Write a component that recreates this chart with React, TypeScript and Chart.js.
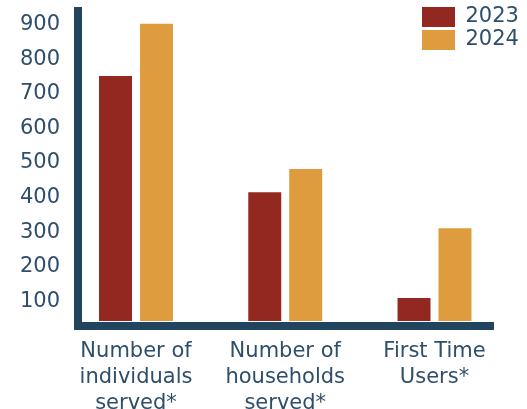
import { useEffect, useRef } from 'react';
import { Chart, registerables } from 'chart.js';

Chart.register(...registerables);

const categories: string[][] = [
  ['Number of', 'individuals', 'served*'],
  ['Number of', 'households', 'served*'],
  ['First Time', 'Users*'],
];
const categoryPositions = [0, 1, 2];
const seriesLabels = ['2023', '2024'];
const values2023 = [745, 410, 104];
const values2024 = [896, 477, 306];
const yTicks = [100, 200, 300, 400, 500, 600, 700, 800, 900];

const RED = '#932821';
const ORANGE = '#DE9C3E';
const AXIS = '#22455F';
const TEXT = '#2E4E6B';
const FAMILY = "'DejaVu Sans', sans-serif";

const legendPlacer = {
  id: 'legendPlacer',
  afterLayout(chart: any) {
    const lg = chart.legend;
    if (lg) {
      lg.left = 420;
      lg.top = 4.5;
      lg.right = 527;
      lg.bottom = 120;
    }
  },
};

export default function App() {
  const ref = useRef<HTMLCanvasElement>(null);

  useEffect(() => {
    if (!ref.current) return;
    const chart = new Chart(ref.current, {
      type: 'bar',
      data: {
        datasets: [
          {
            label: seriesLabels[0],
            data: categoryPositions.map((x, i) => ({ x, y: values2023[i] })),
            backgroundColor: RED,
            base: 38,
            categoryPercentage: 0.549,
            barPercentage: 0.805,
          } as any,
          {
            label: seriesLabels[1],
            data: categoryPositions.map((x, i) => ({ x, y: values2024[i] })),
            backgroundColor: ORANGE,
            base: 38,
            categoryPercentage: 0.549,
            barPercentage: 0.805,
          } as any,
        ],
      },
      options: {
        animation: false,
        responsive: true,
        maintainAspectRatio: false,
        layout: { padding: { top: 11, right: 34, bottom: 0, left: 0 } },
        plugins: {
          tooltip: { enabled: false },
          legend: {
            position: 'chartArea',
            align: 'start',
            labels: {
              boxWidth: 33,
              boxHeight: 20,
              padding: 2,
              color: TEXT,
              font: { family: FAMILY, size: 21 },
            },
          },
        },
        scales: {
          x: {
            type: 'linear',
            min: -0.3886,
            max: 2.392,
            offset: false,
            grid: { display: false, drawTicks: false },
            border: { display: true, color: AXIS, width: 8 },
            afterBuildTicks: (s: any) => {
              s.ticks = categoryPositions.map((v) => ({ value: v }));
            },
            afterFit: (s: any) => {
              s.height = 83;
              s.paddingLeft = 0;
              s.paddingRight = 0;
            },
            ticks: {
              autoSkip: false,
              maxRotation: 0,
              minRotation: 0,
              padding: 13,
              color: TEXT,
              font: { family: FAMILY, size: 21, lineHeight: 1.22 },
              callback: (_v: any, i: number) => categories[i],
            },
          } as any,
          y: {
            type: 'linear',
            min: 23.5,
            max: 933,
            grid: { display: false, drawTicks: false },
            border: { display: true, color: AXIS, width: 8 },
            afterBuildTicks: (s: any) => {
              s.ticks = yTicks.map((v) => ({ value: v }));
            },
            afterFit: (s: any) => {
              s.width = 78;
              s.paddingTop = 0;
              s.paddingBottom = 0;
            },
            ticks: {
              padding: 18,
              labelOffset: 2,
              color: TEXT,
              font: { family: FAMILY, size: 21 },
            },
          } as any,
        },
      },
      plugins: [legendPlacer],
    });
    return () => chart.destroy();
  }, []);

  return (
    <div style={{ position: 'fixed', left: 0, top: 0, width: 527, height: 409 }}>
      <canvas ref={ref} />
    </div>
  );
}
